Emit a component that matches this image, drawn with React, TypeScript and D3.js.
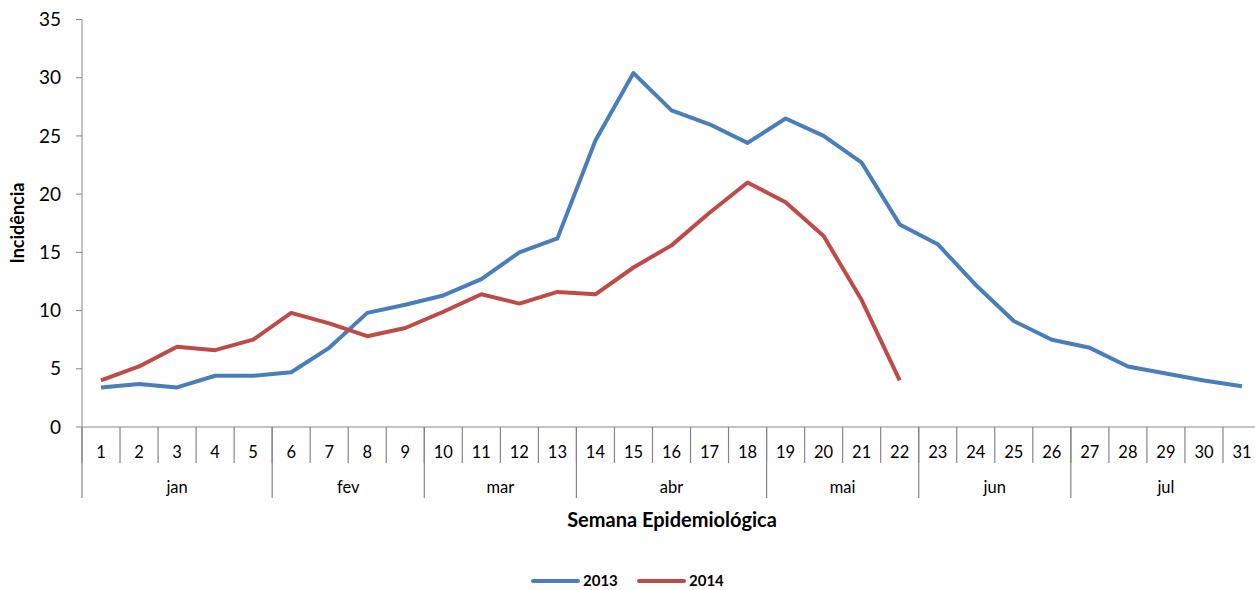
import React from "react";
import * as d3 from "d3";

const weeks = d3.range(1, 32).map(String);
const months = [
  { label: "jan", from: 1, to: 5 },
  { label: "fev", from: 6, to: 9 },
  { label: "mar", from: 10, to: 13 },
  { label: "abr", from: 14, to: 18 },
  { label: "mai", from: 19, to: 22 },
  { label: "jun", from: 23, to: 26 },
  { label: "jul", from: 27, to: 31 },
];
const values2013 = [
  3.4, 3.7, 3.4, 4.4, 4.4, 4.7, 6.8, 9.8, 10.5, 11.3, 12.7, 15.0, 16.2, 24.6, 30.4, 27.2,
  26.0, 24.4, 26.5, 25.0, 22.7, 17.4, 15.7, 12.2, 9.1, 7.5, 6.8, 5.2, 4.6, 4.0, 3.5,
];
const values2014 = [
  4.0, 5.2, 6.9, 6.6, 7.5, 9.8, 8.9, 7.8, 8.5, 9.9, 11.4, 10.6, 11.6, 11.4, 13.7, 15.6,
  18.4, 21.0, 19.3, 16.4, 10.9, 4.0,
];
const yTicks = [0, 5, 10, 15, 20, 25, 30, 35];

const series = [
  { label: "2013", values: values2013, color: "#4A7EBB" },
  { label: "2014", values: values2014, color: "#BE4B48" },
];

const FONT = "Lato, 'Open Sans', sans-serif";
const AXIS = "#868686";

export default function App() {
  const width = 1255;
  const height = 590;
  const left = 82;
  const right = 1261;
  const top = 19.5;
  const bottom = 427;

  const x = d3.scaleBand<string>().domain(weeks).range([left, right]);
  const y = d3.scaleLinear().domain([0, 35]).range([bottom, top]);
  const cx = (i: number) => (x(weeks[i]) ?? 0) + x.bandwidth() / 2;

  const line = d3
    .line<number>()
    .x((_, i) => cx(i))
    .y((d) => y(d));

  return (
    <svg
      width={width}
      height={height}
      style={{ position: "absolute", left: 0, top: 0, background: "#fff" }}
      fontFamily={FONT}
    >
      {/* y axis */}
      <line x1={left} x2={left} y1={top} y2={bottom} stroke={AXIS} />
      {yTicks.map((t) => (
        <g key={t}>
          <line x1={left - 6} x2={left} y1={y(t)} y2={y(t)} stroke={AXIS} />
          <text x={61} y={y(t)} dy="0.35em" textAnchor="end" fontSize={19} fill="#000">
            {t}
          </text>
        </g>
      ))}
      <text
        transform={`translate(24,223) rotate(-90)`}
        textAnchor="middle"
        fontSize={18}
        fontWeight="bold"
      >
        Incidência
      </text>

      {/* x axis */}
      <line x1={left} x2={right} y1={bottom} y2={bottom} stroke={AXIS} />
      {weeks.map((w, i) => (
        <g key={w}>
          <line
            x1={x(w)}
            x2={x(w)}
            y1={bottom}
            y2={bottom + 36}
            stroke={AXIS}
            strokeWidth={1.2}
          />
          <text x={cx(i)} y={452} dy="0.35em" textAnchor="middle" fontSize={16.5}>
            {w}
          </text>
        </g>
      ))}
      {months.map((m) => {
        const x0 = x(String(m.from)) ?? 0;
        const x1 = (x(String(m.to)) ?? 0) + x.bandwidth();
        return (
          <g key={m.label}>
            <line x1={x0} x2={x0} y1={bottom} y2={498} stroke={AXIS} strokeWidth={1.2} />
            <text x={(x0 + x1) / 2} y={487} dy="0.35em" textAnchor="middle" fontSize={16.5}>
              {m.label}
            </text>
          </g>
        );
      })}
      <text x={672} y={520} dy="0.35em" textAnchor="middle" fontSize={20} fontWeight="bold">
        Semana Epidemiológica
      </text>

      {/* lines */}
      {series.map((s) => (
        <path
          key={s.label}
          d={line(s.values) ?? ""}
          fill="none"
          stroke={s.color}
          strokeWidth={4}
          strokeLinejoin="round"
        />
      ))}

      {/* legend */}
      {series.map((s, i) => {
        const lx = 533 + i * 106;
        return (
          <g key={s.label}>
            <line
              x1={lx}
              x2={lx + 45}
              y1={581}
              y2={581}
              stroke={s.color}
              strokeWidth={4}
              strokeLinecap="round"
            />
            <text x={lx + 50} y={581} dy="0.35em" fontSize={15} fontWeight="bold">
              {s.label}
            </text>
          </g>
        );
      })}
    </svg>
  );
}
